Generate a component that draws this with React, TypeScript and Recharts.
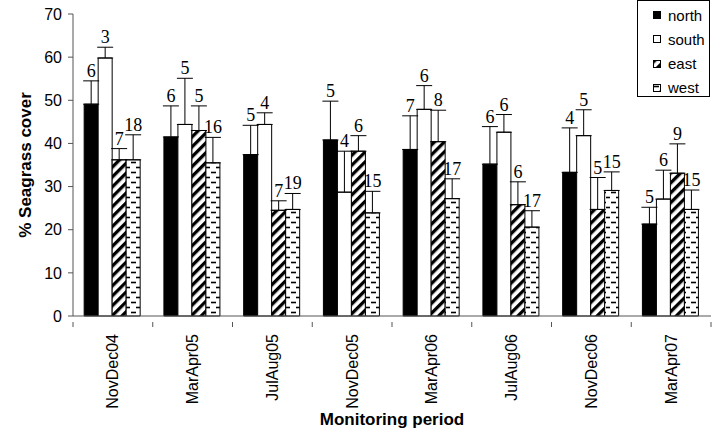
import React from "react";
import { BarChart, Bar, XAxis, YAxis, ErrorBar, LabelList } from "recharts";

const periods = ["NovDec04", "MarApr05", "JulAug05", "NovDec05", "MarApr06", "JulAug06", "NovDec06", "MarApr07"];

const north = [49.1, 41.5, 37.4, 40.8, 38.6, 35.2, 33.3, 21.3];
const south = [59.8, 44.4, 44.4, 28.7, 47.9, 42.6, 41.8, 27.1];
const east = [36.2, 43.0, 24.5, 38.2, 40.4, 25.8, 24.7, 33.1];
const west = [36.2, 35.5, 24.7, 23.9, 27.2, 20.6, 29.1, 24.7];

const northErr = [5.4, 7.2, 6.8, 9.0, 7.8, 8.7, 10.3, 3.9];
const southErr = [2.5, 10.7, 2.7, 9.5, 5.5, 4.1, 6.0, 6.7];
const eastErr = [2.6, 5.7, 2.2, 3.6, 7.3, 5.3, 7.4, 6.8];
const westErr = [5.8, 5.9, 3.7, 5.0, 4.6, 3.8, 4.3, 4.5];

const northN = [6, 6, 5, 5, 7, 6, 4, 5];
const southN = [3, 5, 4, 4, 6, 6, 5, 6];
const eastN = [7, 5, 7, 6, 8, 6, 5, 9];
const westN = [18, 16, 19, 15, 17, 17, 15, 15];

const yTicks = [0, 10, 20, 30, 40, 50, 60, 70];

const data = periods.map((p, i) => ({
  period: p,
  north: north[i],
  south: south[i],
  east: east[i],
  west: west[i],
  northErr: [0, northErr[i]],
  southErr: [0, southErr[i]],
  eastErr: [0, eastErr[i]],
  westErr: [0, westErr[i]],
  northN: northN[i],
  southN: southN[i],
  eastN: eastN[i],
  westN: westN[i],
}));

const SANS = "Liberation Sans, Arial, sans-serif";
const SERIF = "Liberation Serif, DejaVu Serif, serif";

function makeCountLabel(values: number[], errs: number[]) {
  return (props: any) => {
    const vb = props.viewBox || props;
    const x = vb.x ?? props.x;
    const y = vb.y ?? props.y;
    const width = vb.width ?? props.width;
    const height = vb.height ?? props.height;
    const i = props.index;
    const v = values[i];
    const perUnit = v ? Math.abs(height) / v : 0;
    const top = y - errs[i] * perUnit;
    return (
      <text
        x={x + width / 2}
        y={top - 4}
        textAnchor="middle"
        style={{ fontFamily: SERIF, fontSize: 18 }}
        fill="#000"
      >
        {props.value}
      </text>
    );
  };
}

function PeriodTick(props: any) {
  const { x, y, payload, index } = props;
  const half = payload.offset || 39.875;
  const axisY = y - 12;
  return (
    <g>
      <line x1={x - half} y1={axisY} x2={x - half} y2={axisY + 5} stroke="#555" />
      {index === periods.length - 1 && (
        <line x1={x + half} y1={axisY} x2={x + half} y2={axisY + 5} stroke="#555" />
      )}
      <text
        x={x}
        y={y}
        transform={`rotate(-90, ${x}, ${y})`}
        textAnchor="end"
        dy="0.35em"
        style={{ fontFamily: SANS, fontSize: 16 }}
        fill="#000"
      >
        {payload.value}
      </text>
    </g>
  );
}

const legendItems = [
  { name: "north", fill: "#000" },
  { name: "south", fill: "#fff" },
  { name: "east", fill: "url(#eastPat)" },
  { name: "west", fill: "url(#westPat)" },
];

export default function App() {
  return (
    <div style={{ position: "absolute", left: 0, top: 0, width: 719, height: 432, background: "#fff" }}>
      <BarChart
        width={719}
        height={432}
        data={data}
        margin={{ top: 14, right: 8, bottom: 0, left: 13 }}
        barCategoryGap="14%"
        barGap={0}
      >
        <defs>
          <pattern id="eastPat" patternUnits="userSpaceOnUse" width={7} height={7} patternTransform="rotate(45)">
            <rect width={7} height={7} fill="#fff" />
            <rect x={0} y={0} width={3.3} height={7} fill="#000" />
          </pattern>
          <pattern id="westPat" patternUnits="userSpaceOnUse" width={10} height={10}>
            <rect width={10} height={10} fill="#fff" />
            <line x1={1} y1={2.5} x2={6} y2={2.5} stroke="#000" strokeWidth={1.6} />
            <line x1={6} y1={7.5} x2={10} y2={7.5} stroke="#000" strokeWidth={1.6} />
          </pattern>
        </defs>
        <XAxis
          dataKey="period"
          height={116}
          axisLine={{ stroke: "#555" }}
          tickLine={false}
          interval={0}
          tick={<PeriodTick />}
          tickMargin={12}
          label={{
            content: (p: any) => {
              const vb = p.viewBox;
              return (
                <text
                  x={vb.x + vb.width / 2}
                  y={vb.y + 109}
                  textAnchor="middle"
                  style={{ fontFamily: SANS, fontSize: 17, fontWeight: "bold" }}
                  fill="#000"
                >
                  Monitoring period
                </text>
              );
            },
          }}
        />
        <YAxis
          width={60}
          domain={[0, 70]}
          ticks={yTicks}
          interval={0}
          axisLine={{ stroke: "#555" }}
          tickLine={{ stroke: "#555" }}
          tickSize={5}
          tickMargin={6}
          tick={{ fontFamily: SANS, fontSize: 16, fill: "#000" }}
          label={{
            content: (p: any) => {
              const vb = p.viewBox;
              const cx = vb.x + 12;
              const cy = vb.y + vb.height / 2;
              return (
                <text
                  x={cx}
                  y={cy}
                  transform={`rotate(-90, ${cx}, ${cy})`}
                  textAnchor="middle"
                  dominantBaseline="central"
                  style={{ fontFamily: SANS, fontSize: 17, fontWeight: "bold" }}
                  fill="#000"
                >
                  % Seagrass cover
                </text>
              );
            },
          }}
        />
        <Bar dataKey="north" fill="#000" stroke="#000" strokeWidth={1} isAnimationActive={false}>
          <ErrorBar dataKey="northErr" width={8} stroke="#000" strokeWidth={1} direction="y" />
          <LabelList dataKey="northN" content={makeCountLabel(north, northErr)} />
        </Bar>
        <Bar dataKey="south" fill="#fff" stroke="#000" strokeWidth={1} isAnimationActive={false}>
          <ErrorBar dataKey="southErr" width={8} stroke="#000" strokeWidth={1} direction="y" />
          <LabelList dataKey="southN" content={makeCountLabel(south, southErr)} />
        </Bar>
        <Bar dataKey="east" fill="url(#eastPat)" stroke="#000" strokeWidth={1} isAnimationActive={false}>
          <ErrorBar dataKey="eastErr" width={8} stroke="#000" strokeWidth={1} direction="y" />
          <LabelList dataKey="eastN" content={makeCountLabel(east, eastErr)} />
        </Bar>
        <Bar dataKey="west" fill="url(#westPat)" stroke="#000" strokeWidth={1} isAnimationActive={false}>
          <ErrorBar dataKey="westErr" width={8} stroke="#000" strokeWidth={1} direction="y" />
          <LabelList dataKey="westN" content={makeCountLabel(west, westErr)} />
        </Bar>
      </BarChart>
      <div
        style={{
          position: "absolute",
          left: 637,
          top: 0,
          width: 71,
          height: 95,
          border: "1px solid #000",
          background: "#fff",
          fontFamily: SANS,
          fontSize: 15,
          color: "#000",
        }}
      >
        {legendItems.map((it, k) => (
          <div
            key={it.name}
            style={{ position: "absolute", left: 15, top: 5 + k * 24.3, height: 18, display: "flex", alignItems: "center" }}
          >
            <svg width={8} height={8} style={{ marginRight: 7 }}>
              <rect x={0.5} y={0.5} width={7} height={7} fill={it.fill} stroke="#000" strokeWidth={1} />
            </svg>
            <span>{it.name}</span>
          </div>
        ))}
      </div>
    </div>
  );
}
